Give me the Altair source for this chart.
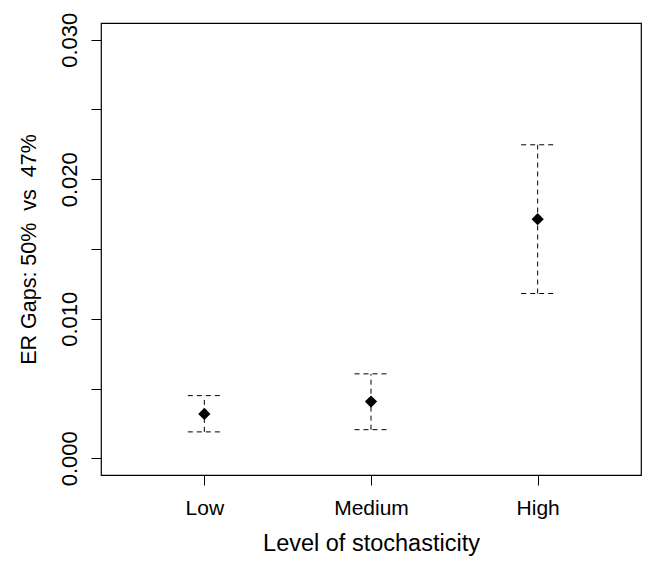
import json
import altair as alt
import pandas as pd

# ---- data ----
levels = ["Low", "Medium", "High"]
positions = [1, 2, 3]
means = [0.00318, 0.00406, 0.01714]
lowers = [0.00189, 0.00205, 0.01181]
uppers = [0.00449, 0.00605, 0.02247]
y_ticks = [0.0, 0.005, 0.010, 0.015, 0.020, 0.025, 0.030]

df = pd.DataFrame({
    "level": levels,
    "pos": positions,
    "mean": means,
    "lower": lowers,
    "upper": uppers,
})

FONT = "Liberation Sans"
W, H = 540, 452

x_scale = alt.Scale(domain=[0.38, 3.62], nice=False, zero=False)
y_scale = alt.Scale(domain=[-0.0012, 0.0312], nice=False, zero=False)

x_label_expr = json.dumps(levels) + "[datum.value - 1]"
y_label_expr = ("abs(datum.value*100 - round(datum.value*100)) < 1e-6 "
                "? format(datum.value, '.3f') : ''")

x_axis = alt.Axis(
    values=positions, labelExpr=x_label_expr, title="Level of stochasticity",
    domain=False, grid=False, ticks=True, tickSize=10, tickColor="black",
    labelFont=FONT, labelFontSize=21, labelColor="black",
    labelBaseline="alphabetic", labelPadding=29, labelAngle=0,
    titleFont=FONT, titleFontSize=23.5, titleFontWeight="normal", titleColor="black",
    titleBaseline="alphabetic", titleAlign="center", titleX=W / 2, titleY=75,
)
y_axis = alt.Axis(
    values=y_ticks, labelExpr=y_label_expr,
    title="ER Gaps: 50%\u00a0 vs\u00a0 47%",
    domain=False, grid=False, ticks=True, tickSize=10, tickColor="black",
    labelFont=FONT, labelFontSize=22, labelColor="black",
    labelAngle=-90, labelAlign="center", labelBaseline="alphabetic",
    labelPadding=15, labelOverlap=False,
    titleFont=FONT, titleFontSize=21.5, titleFontWeight="normal", titleColor="black",
    titleAngle=-90, titleAlign="center", titleBaseline="alphabetic",
    titleX=-66, titleY=H / 2,
)

X = alt.X("pos:Q", scale=x_scale, axis=x_axis)

base = alt.Chart(df)

bars = base.mark_rule(color="black", strokeWidth=1, strokeDash=[5, 4]).encode(
    x=X,
    y=alt.Y("lower:Q", scale=y_scale, axis=y_axis),
    y2=alt.Y2("upper:Q"),
)

cap_top = base.mark_rule(color="black", strokeWidth=1, strokeDash=[5, 4],
                         xOffset=-16.5, x2Offset=16.5).encode(
    x=X,
    x2=alt.X2("pos:Q"),
    y=alt.Y("upper:Q", scale=y_scale, axis=y_axis),
)

cap_bot = base.mark_rule(color="black", strokeWidth=1, strokeDash=[5, 4],
                         xOffset=-16.5, x2Offset=16.5).encode(
    x=X,
    x2=alt.X2("pos:Q"),
    y=alt.Y("lower:Q", scale=y_scale, axis=y_axis),
)

points = base.mark_point(shape="diamond", filled=True, color="black",
                         size=150, opacity=1).encode(
    x=X,
    y=alt.Y("mean:Q", scale=y_scale, axis=y_axis),
)

chart = alt.layer(bars, cap_top, cap_bot, points).properties(
    width=W,
    height=H,
    autosize=alt.AutoSizeParams(type="none"),
    padding={"left": 93, "top": 15, "right": 1, "bottom": 82},
    background="white",
).configure_view(stroke="black", strokeWidth=1.2)

chart.save("out.html", embed_options={"renderer": "svg", "actions": False})
